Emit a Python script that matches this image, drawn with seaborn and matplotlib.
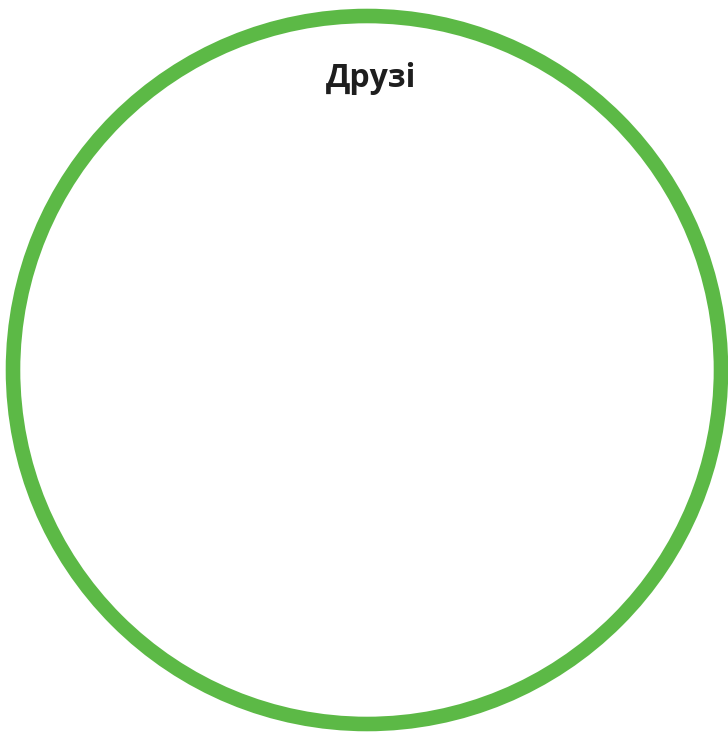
import seaborn as sns
import matplotlib.pyplot as plt
from matplotlib.patches import Circle

# one set: label, centre and radius (in picture units)
set_labels = ["Друзі"]
set_centers = [(367, 370)]
set_radii = [354]

sns.set_style("white")
fig = plt.figure(figsize=(7.28, 7.32), dpi=100)
ax = fig.add_axes([0, 0, 1, 1])
ax.set_xlim(0, 728)
ax.set_ylim(732, 0)
ax.set_aspect("equal")
ax.axis("off")

green = "#5cb946"
for lab, (cx, cy), r in zip(set_labels, set_centers, set_radii):
    ax.add_patch(Circle((cx, cy), r, fill=False, edgecolor=green, linewidth=10.5))
    ax.text(cx + 4, cy - r + 71, lab, ha="center", va="baseline",
            fontsize=23, fontweight="bold", family=["Open Sans", "DejaVu Sans"],
            color="#1e1e1e")

fig.savefig("out.png", dpi=100)
